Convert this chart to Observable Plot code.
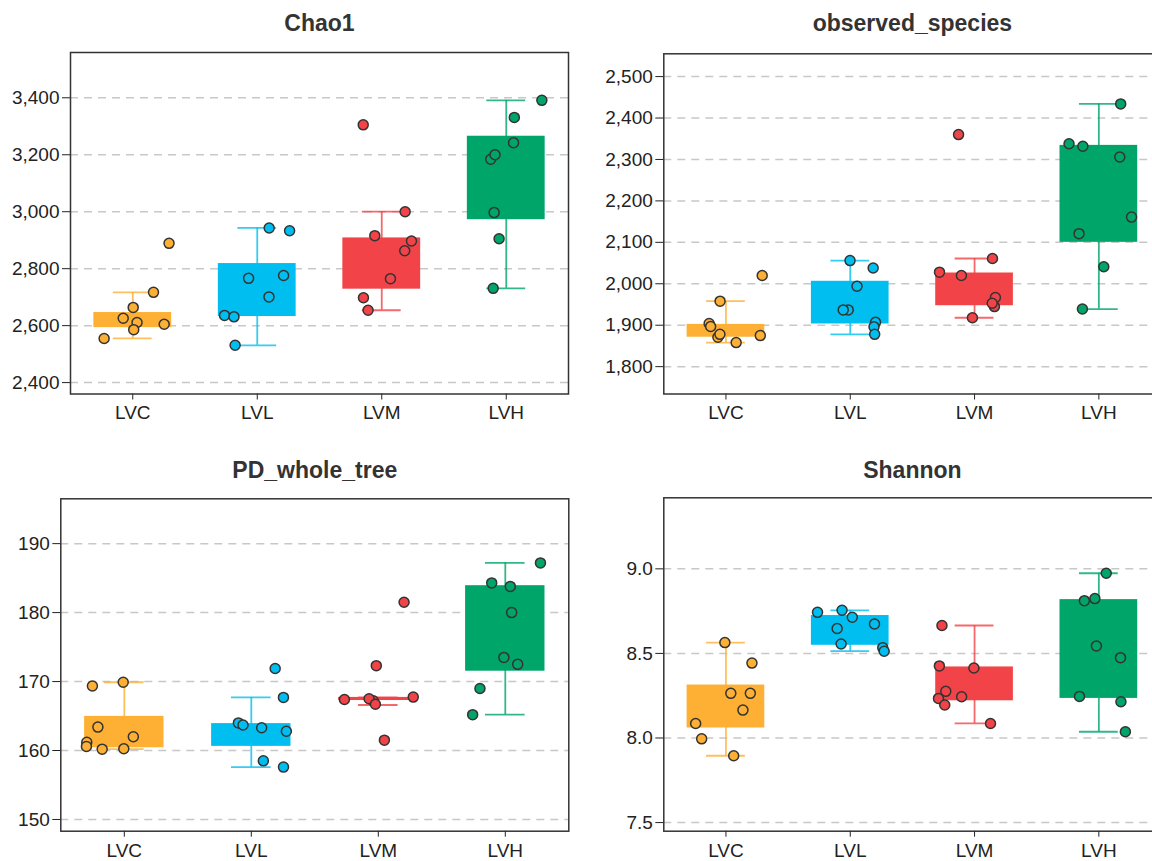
<!DOCTYPE html>
<html><head><meta charset="utf-8">
<script src="https://cdn.jsdelivr.net/npm/d3@7"></script>
<script src="https://cdn.jsdelivr.net/npm/@observablehq/plot@0.6"></script>
<style>
html,body{margin:0;padding:0;background:#fff;overflow:hidden;}
#wrap{position:relative;width:1152px;height:861px;overflow:hidden;background:#fff;}
.panel{position:absolute;}
.panel svg{max-width:none !important;}
</style></head><body><div id="wrap"></div>
<script>
const groups = ["LVC", "LVL", "LVM", "LVH"];
const groupColors = ["#FDB034", "#00BFF0", "#F24448", "#00A56A"];

// Chao1
const chao1Points = [
  [2889, 2717, 2664, 2611, 2605, 2586, 2626, 2555],
  [2933, 2943, 2776, 2766, 2701, 2636, 2631, 2531],
  [3305, 3000, 2916, 2897, 2863, 2765, 2698, 2654],
  [3391, 3331, 3242, 3184, 3200, 2997, 2905, 2731]
];
const chao1Q1 = [2593, 2632, 2728, 2972];
const chao1Q3 = [2646, 2818, 2908, 3265];
const chao1Low = [2555, 2531, 2654, 2731];
const chao1High = [2717, 2943, 3000, 3391];
const chao1Ticks = [2400, 2600, 2800, 3000, 3200, 3400];

// observed_species
const obsPoints = [
  [2020, 1958, 1904, 1897, 1875, 1871, 1878, 1858],
  [2056, 2038, 1994, 1937, 1937, 1907, 1896, 1878],
  [2360, 2061, 2028, 2020, 1967, 1945, 1953, 1918],
  [2434, 2338, 2332, 2306, 2161, 2121, 2041, 1939]
];
const obsQ1 = [1871, 1903, 1947, 2100];
const obsQ3 = [1902, 2006, 2026, 2334];
const obsLow = [1858, 1878, 1918, 1939];
const obsHigh = [1958, 2056, 2061, 2434];
const obsTicks = [1800, 1900, 2000, 2100, 2200, 2300, 2400, 2500];

// PD_whole_tree
const pdPoints = [
  [169.9, 169.35, 163.4, 162.0, 161.2, 160.6, 160.2, 160.25],
  [171.9, 167.7, 164.0, 163.7, 163.3, 162.8, 158.5, 157.6],
  [181.5, 172.3, 167.75, 167.2, 167.4, 167.5, 166.7, 161.5],
  [187.2, 183.8, 184.3, 180.0, 173.5, 172.5, 169.0, 165.2]
];
const pdQ1 = [160.4, 160.6, 167.25, 171.5];
const pdQ3 = [164.95, 163.9, 167.7, 183.9];
const pdLow = [160.2, 157.6, 166.6, 165.2];
const pdHigh = [169.9, 167.7, 167.7, 187.2];
const pdTicks = [150, 160, 170, 180, 190];

// Shannon
const shannonPoints = [
  [8.564, 8.443, 8.264, 8.264, 8.165, 8.086, 7.995, 7.895],
  [8.755, 8.743, 8.714, 8.674, 8.647, 8.556, 8.534, 8.513],
  [8.665, 8.426, 8.414, 8.276, 8.244, 8.234, 8.195, 8.086],
  [8.974, 8.824, 8.812, 8.544, 8.475, 8.246, 8.214, 8.037]
];
const shannonQ1 = [8.059, 8.548, 8.220, 8.234];
const shannonQ3 = [8.313, 8.724, 8.420, 8.818];
const shannonLow = [7.895, 8.513, 8.086, 8.037];
const shannonHigh = [8.564, 8.755, 8.665, 8.974];
const shannonTicks = [7.5, 8.0, 8.5, 9.0];

const wrap = document.getElementById("wrap");

function drawPanel(cfg) {
  const rnd = d3.randomLcg(cfg.seed);
  const dots = [];
  cfg.points.forEach((vals, i) => vals.forEach(v => dots.push({g: i, x: i + (rnd() - 0.5) * 0.6, v})));
  const boxes = groups.map((g, i) => ({g: i, q1: cfg.q1[i], q3: cfg.q3[i], lo: cfg.lo[i], hi: cfg.hi[i]}));
  const bw = 0.3125, cw = 0.156;
  const col = d => groupColors[d.g];
  const plot = Plot.plot({
    width: cfg.width, height: cfg.height,
    marginLeft: cfg.m[0], marginRight: cfg.m[1], marginTop: cfg.m[2], marginBottom: cfg.m[3],
    style: {fontFamily: "'Liberation Sans', Arial, sans-serif", fontSize: "19px", color: "#222", background: "#fff", overflow: "visible", maxWidth: "none"},
    x: {domain: [-0.5, 3.5], ticks: [0, 1, 2, 3], tickFormat: i => groups[i], tickSize: 6, tickPadding: cfg.xPad, label: null},
    y: {domain: cfg.yDomain, ticks: cfg.ticks, tickFormat: cfg.format, tickSize: 8, tickPadding: 3, label: null},
    marks: [
      Plot.ruleY(cfg.ticks, {stroke: "#c8c8c8", strokeWidth: 1.5, strokeDasharray: "8,6"}),
      Plot.ruleX(boxes, {x: "g", y1: "lo", y2: "hi", stroke: col, strokeWidth: 1.8, strokeOpacity: 0.8}),
      Plot.ruleY(boxes, {y: "lo", x1: d => d.g - cw, x2: d => d.g + cw, stroke: col, strokeWidth: 1.8, strokeOpacity: 0.8}),
      Plot.ruleY(boxes, {y: "hi", x1: d => d.g - cw, x2: d => d.g + cw, stroke: col, strokeWidth: 1.8, strokeOpacity: 0.8}),
      Plot.rect(boxes, {x1: d => d.g - bw, x2: d => d.g + bw, y1: "q1", y2: "q3", fill: col}),
      Plot.dot(dots, {x: "x", y: "v", r: 5, fill: col, stroke: "#333", strokeWidth: 1.5}),
      Plot.frame({stroke: "#333", strokeWidth: 1.5}),
      Plot.text([cfg.title], {frameAnchor: "top", lineAnchor: "middle", dy: cfg.titleDy, fontSize: 23, fontWeight: "bold", fill: "#333"})
    ]
  });
  const div = document.createElement("div");
  div.className = "panel";
  div.style.left = cfg.left + "px";
  div.style.top = cfg.top + "px";
  div.style.width = cfg.width + "px";
  div.style.height = cfg.height + "px";
  div.appendChild(plot);
  wrap.appendChild(div);
}

drawPanel({title: "Chao1", points: chao1Points, q1: chao1Q1, q3: chao1Q3, lo: chao1Low, hi: chao1High,
  ticks: chao1Ticks, format: d3.format(","), yDomain: [2360, 3559], seed: 0.11,
  left: 0, top: 0, width: 576, height: 430, m: [70, 8, 52, 36.5], titleDy: -29, xPad: 5});
drawPanel({title: "observed_species", points: obsPoints, q1: obsQ1, q3: obsQ3, lo: obsLow, hi: obsHigh,
  ticks: obsTicks, format: d3.format(","), yDomain: [1734, 2555], seed: 0.23,
  left: 576, top: 0, width: 590, height: 430, m: [87.3, 5.5, 53.3, 36.5], titleDy: -30, xPad: 5});
drawPanel({title: "PD_whole_tree", points: pdPoints, q1: pdQ1, q3: pdQ3, lo: pdLow, hi: pdHigh,
  ticks: pdTicks, format: d3.format("d"), yDomain: [148.3, 196.5], seed: 0.37,
  left: 0, top: 440, width: 576, height: 421, m: [60.3, 7.7, 58.3, 30.3], titleDy: -28, xPad: 6});
drawPanel({title: "Shannon", points: shannonPoints, q1: shannonQ1, q3: shannonQ3, lo: shannonLow, hi: shannonHigh,
  ticks: shannonTicks, format: d3.format(".1f"), yDomain: [7.449, 9.42], seed: 0.53,
  left: 576, top: 440, width: 590, height: 421, m: [87.3, 5.5, 57.3, 30.3], titleDy: -27, xPad: 6});
</script></body></html>
